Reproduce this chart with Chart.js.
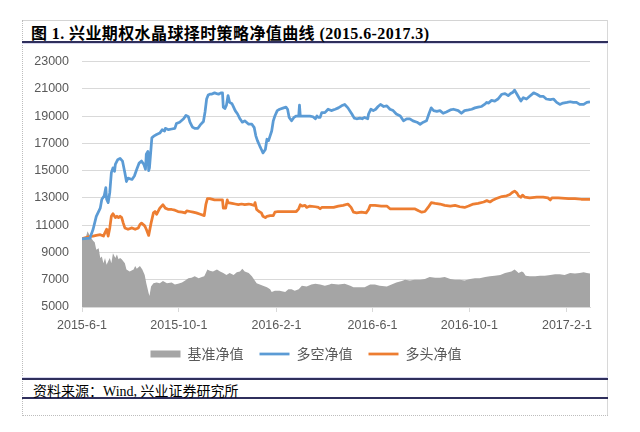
<!DOCTYPE html>
<html>
<head>
<meta charset="utf-8">
<script src="https://cdn.jsdelivr.net/npm/chart.js@4/dist/chart.umd.min.js"></script>
<style>
  html, body { margin:0; padding:0; background:#fff; }
  body { width:640px; height:432px; position:relative; overflow:hidden; }
  .ln { position:absolute; }
  #title { position:absolute; left:31px; top:20px; height:20px; line-height:20px; font:bold 16px "Liberation Serif","Noto Sans CJK SC",serif; color:#000; white-space:nowrap; letter-spacing:0.4px; }
  #source { position:absolute; left:33px; top:380px; height:18px; line-height:18px; font:14px "Liberation Serif","Noto Sans CJK SC",serif; color:#000; white-space:nowrap; }
  #chart { position:absolute; left:22px; top:41px; }
</style>
</head>
<body>
<!-- frame -->
<div class="ln" style="left:22px;top:20px;width:586px;border-top:1px solid #d4d4d4"></div>
<div class="ln" style="left:22px;top:20px;height:396px;border-left:1px dotted #bdbdbd"></div>
<div class="ln" style="left:607px;top:20px;height:396px;border-left:1px solid #d8d8d8"></div>
<div class="ln" style="left:22px;top:415px;width:586px;border-top:1px dotted #bdbdbd"></div>
<div class="ln" style="left:22px;top:41px;width:586px;height:2px;background:#2f2f5c"></div>
<div class="ln" style="left:22px;top:43px;width:586px;height:1px;background:#d6d6ee"></div>
<div class="ln" style="left:22px;top:377px;width:586px;height:1px;background:#d6d6ee"></div>
<div class="ln" style="left:22px;top:378px;width:586px;height:2px;background:#2f2f5c"></div>
<div class="ln" style="left:22px;top:397px;width:586px;height:2px;background:#2f2f5c"></div>

<div id="title">图 1. 兴业期权水晶球择时策略净值曲线 (2015.6-2017.3)</div>
<canvas id="chart" width="599" height="336"></canvas>
<div id="source">资料来源：Wind, 兴业证券研究所</div>

<script>
// 净值曲线 2015.6-2017.3, x = days since 2015-06-01

const START = '2015-06-01';
const xTickLabels = ['2015-6-1','2015-10-1','2016-2-1','2016-6-1','2016-10-1','2017-2-1'];
const seriesNames = ['基准净值','多空净值','多头净值'];

const yMin = 5000, yMax = 23000, yStep = 2000;
const xMax = 640;

// 基准净值
const benchDay = [0,4,7,10,14,16,18,21,23,25,27,29,31,33,35,37,39,42,44,46,48,50,54,56,60,65,67,69,73,76,
  79,81,84,85,87,90,94,98,102,107,113,117,121,126,130,134,138,142,147,151,154,156,158,161,165,170,174,178,182,186,
  191,195,199,202,205,210,214,217,220,224,228,233,237,239,243,249,256,260,264,268,273,277,283,289,294,300,306,312,314,323,
  331,338,342,348,356,363,369,375,384,390,396,403,407,413,419,426,432,438,445,451,457,464,470,476,482,489,495,501,508,514,
  520,527,533,537,541,545,548,550,554,556,559,564,571,577,583,590,596,602,608,615,621,627,632,636,640];
const benchValue = [10000,9950,10550,10200,9850,9750,9200,9300,8600,8700,8200,8600,8100,8350,8600,8200,8950,8600,8850,8500,8600,8500,8200,7750,7600,7750,8000,7800,8000,7750,
  7350,6750,6000,5800,6500,6750,6800,6750,6900,6750,6800,6650,6700,6800,6950,7100,7150,7250,7100,7200,7250,7500,7750,7650,7600,7750,7600,7500,7350,7500,
  7350,7550,7600,7800,7600,7500,7250,7000,6750,6650,6550,6450,6300,6100,6200,6200,6100,6300,6300,6200,6300,6550,6500,6650,6700,6650,6550,6650,6700,6650,
  6700,6550,6450,6450,6450,6650,6650,6550,6500,6650,6800,6900,7000,6950,7000,7000,7050,7200,7150,7150,7200,7050,7000,7000,6950,7050,7100,7100,7200,7250,
  7300,7350,7500,7550,7600,7750,7600,7500,7600,7550,7300,7250,7250,7300,7300,7350,7400,7400,7350,7500,7450,7500,7550,7500,7450];

// 多空净值
const lsDay = [0,10,14,18,23,25,28,30,31,33,35,37,39,41,42,45,48,51,54,56,58,63,66,69,72,75,78,80,81,83,
  84,85,88,91,94,98,101,104,105,109,113,117,119,123,128,131,134,136,139,142,146,149,153,155,157,159,161,163,167,172,
  175,177,178,180,182,184,186,189,191,193,196,199,202,205,210,214,217,219,221,224,226,228,231,233,235,237,239,241,243,246,
  249,254,257,259,261,264,267,270,273,274,275,279,283,287,291,294,296,298,300,302,306,310,314,319,323,327,331,335,340,343,
  346,350,353,356,360,361,364,367,370,373,376,380,384,388,392,396,401,405,409,413,417,422,426,430,434,437,440,443,447,451,
  455,459,464,468,474,478,482,487,491,495,499,503,508,510,512,516,520,524,529,533,537,540,543,545,548,550,553,556,560,564,
  569,573,577,581,585,590,594,598,602,606,611,615,619,623,627,632,636,640];
const lsValue = [10000,10050,10700,11650,12250,12900,13150,13750,12900,12650,13400,14850,15200,14950,15450,15800,15900,15700,14850,14200,14450,14350,14600,15100,15550,15700,15450,15100,16200,16400,
  15000,15200,17400,17550,17650,17750,18000,17900,18100,18000,18050,18100,18450,18550,18800,19050,18950,18550,18200,18100,18100,18350,18600,19300,20250,20550,20600,20600,20700,20600,
  20700,20700,19650,19550,19800,20500,20000,19900,19650,19400,19150,18800,18550,18650,18400,18400,18150,17550,17200,16800,16550,16300,16550,17300,17200,17550,17900,18650,19000,19400,
  19500,19600,19650,19500,18900,18650,18900,19000,19000,19800,19000,19000,19000,19000,18950,18800,19000,18900,18900,19250,19250,19500,19400,19500,19600,19750,19850,19600,19150,18850,
  18800,18850,18800,18900,18800,19150,19500,19400,19500,19700,19850,19700,19750,19500,19400,19150,19000,18650,18800,18800,18650,18550,18400,18550,18650,19150,19600,19400,19350,19400,
  19200,19300,19450,19500,19400,19200,19400,19450,19500,19600,19650,19700,19900,20000,19950,20150,20100,20250,20600,20650,20500,20650,20750,20900,20600,20400,20100,20350,20250,20450,
  20700,20600,20450,20450,20250,20200,20250,20000,19850,19950,20000,20050,20000,20000,19850,19850,20000,20050];

// 多头净值
const longDay = [0,8,14,18,23,27,29,31,33,35,37,39,42,44,46,48,50,52,54,58,63,67,71,73,75,79,81,84,87,90,
  92,94,98,102,105,109,113,117,121,126,130,132,136,140,144,149,154,156,158,161,167,174,177,178,181,183,184,189,193,197,
  201,205,210,214,217,218,220,223,226,228,231,233,237,241,243,247,258,270,273,275,277,281,283,287,294,298,300,302,317,323,
  329,335,339,342,346,352,358,361,363,369,377,384,388,403,419,424,428,432,436,440,445,451,457,464,470,476,482,487,493,499,
  506,510,514,518,522,529,535,539,542,545,548,550,553,555,558,564,573,581,587,590,592,600,613,621,629,640];
const longValue = [10000,10150,10200,10250,10300,10200,10450,10700,10200,10800,11650,11850,11550,11650,11550,11650,11550,11150,10800,10700,10800,10700,10800,11050,11150,10950,10700,10250,11150,11900,
  12000,11800,12250,12500,12250,12150,12150,12100,12000,11950,11900,12050,12000,11950,11900,11800,11700,12500,12950,12950,12850,12850,12850,12250,12250,12850,12650,12600,12550,12500,
  12550,12500,12550,12500,12450,12650,12150,12000,11900,11650,11550,11650,11700,11700,11950,12000,12000,12000,12200,12500,12400,12450,12300,12400,12350,12300,12200,12300,12300,12400,
  12450,12550,12300,11950,11900,11950,11900,12150,12450,12450,12400,12400,12200,12200,12200,12050,11950,12000,12300,12650,12600,12550,12450,12400,12450,12350,12300,12400,12550,12600,
  12700,12800,12700,12850,12950,13100,13150,13250,13400,13500,13350,13150,13050,13200,13050,13000,13050,13050,13000,12850,13000,13000,12950,12950,12900,12900];

const GREY = '#a5a5a5', BLUE = '#5b9bd5', ORANGE = '#ed7d31';

function dayOf(label){
  const [y,m,d] = label.split('-').map(Number);
  const [y0,m0,d0] = START.split('-').map(Number);
  return Math.round((Date.UTC(y,m-1,d) - Date.UTC(y0,m0-1,d0)) / 86400000);
}
const xTickDays = xTickLabels.map(dayOf);

function pts(days, vals){
  return days.map((d,i) => ({x:d, y:vals[i]}));
}

const AXIS_FONT = {family:'"Liberation Sans", Arial, sans-serif', size:12.5};

new Chart(document.getElementById('chart'), {
  type: 'line',
  data: {
    datasets: [
      { label: seriesNames[0], data: pts(benchDay, benchValue), order: 3,
        borderWidth: 0, borderColor: GREY, backgroundColor: GREY, fill: 'start', pointStyle: 'rect' },
      { label: seriesNames[1], data: pts(lsDay, lsValue), order: 1,
        borderWidth: 2.75, borderColor: BLUE, backgroundColor: BLUE, fill: false, pointStyle: 'line' },
      { label: seriesNames[2], data: pts(longDay, longValue), order: 2,
        borderWidth: 2.75, borderColor: ORANGE, backgroundColor: ORANGE, fill: false, pointStyle: 'line' }
    ]
  },
  options: {
    responsive: false,
    animation: false,
    devicePixelRatio: 1,
    elements: { point: { radius: 0 }, line: { tension: 0, borderJoinStyle: 'round' } },
    layout: { padding: { left: 0, right: 31, top: 17, bottom: 6 } },
    plugins: {
      tooltip: { enabled: false },
      legend: {
        position: 'bottom',
        labels: {
          usePointStyle: true,
          pointStyleWidth: 30,
          boxHeight: 7,
          padding: 16,
          color: '#595959',
          font: {family:'"Noto Sans CJK SC", sans-serif', size:14},
          sort: (a,b) => a.datasetIndex - b.datasetIndex
        }
      }
    },
    scales: {
      x: {
        type: 'linear',
        min: 0,
        max: xMax,
        afterBuildTicks: s => { s.ticks = xTickDays.map(v => ({value:v})); },
        afterFit: s => { s.height = 24; },
        ticks: {
          autoSkip: false, maxRotation: 0, padding: 6,
          color: '#595959', font: AXIS_FONT,
          callback: (v, i) => xTickLabels[i]
        },
        grid: { drawOnChartArea: false, drawTicks: true, tickLength: 5, color: '#d9d9d9' },
        border: { display: true, color: '#d9d9d9' }
      },
      y: {
        min: yMin, max: yMax,
        afterFit: s => { s.width = 60; },
        ticks: { stepSize: yStep, padding: 13, color: '#595959', font: AXIS_FONT,
          callback: v => String(v) },
        grid: { color: '#d9d9d9', drawTicks: false },
        border: { display: false }
      }
    }
  }
});
</script>
</body>
</html>
